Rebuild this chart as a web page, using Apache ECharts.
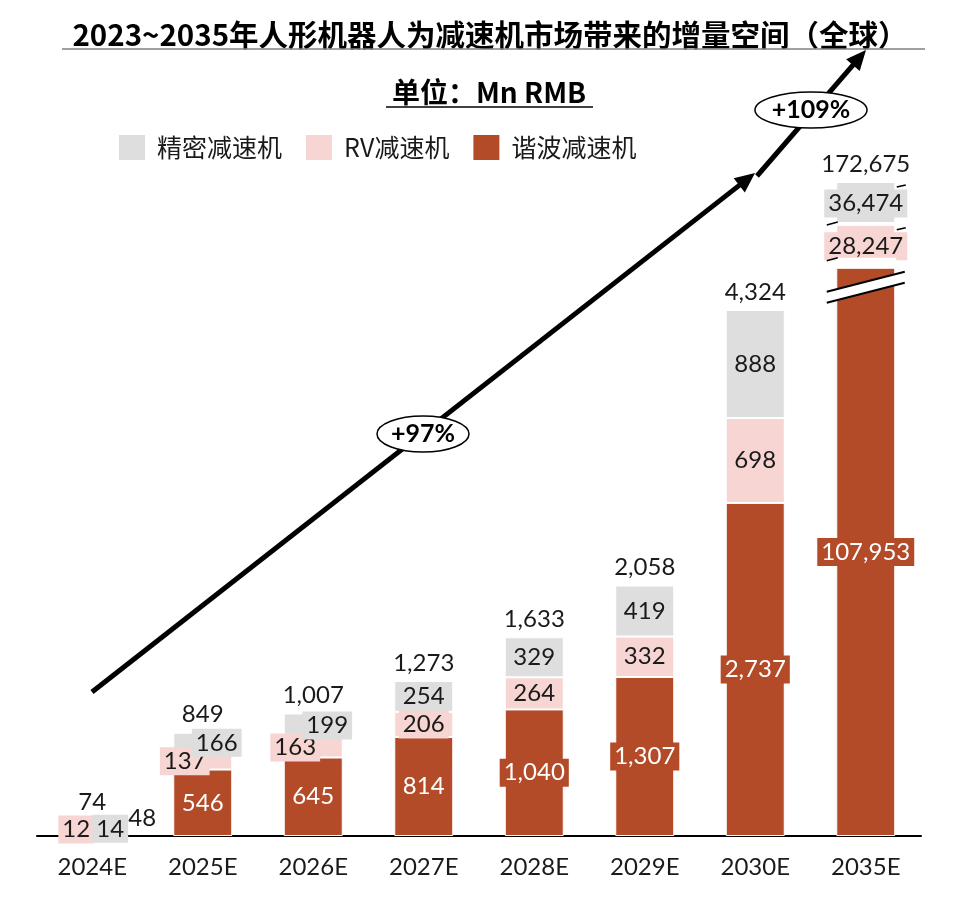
<!DOCTYPE html>
<html>
<head>
<meta charset="utf-8">
<script src="https://cdn.jsdelivr.net/npm/echarts@6.0.0/dist/echarts.min.js"></script>
<style>
html,body{margin:0;padding:0;background:#fff;}
#main{width:955px;height:898px;}
</style>
</head>
<body>
<div id="main"></div>
<script>
// ---------- data ----------
const categories = ['2024E', '2025E', '2026E', '2027E', '2028E', '2029E', '2030E', '2035E'];
const harmonic  = [48, 546, 645, 814, 1040, 1307, 2737, 107953];   // 谐波减速机
const rv        = [12, 137, 163, 206, 264, 332, 698, 28247];       // RV减速机
const precision = [14, 166, 199, 254, 329, 419, 888, 36474];       // 精密减速机
const totals    = [74, 849, 1007, 1273, 1633, 2058, 4324, 172675];
const growthLabels = ['+97%', '+109%'];

const NAMES = { precision: '精密减速机', rv: 'RV减速机', harmonic: '谐波减速机' };
const COLORS = { harmonic: '#B34A28', rv: '#F6D5D3', precision: '#DEDEDE' };
const NUM_FONT = 'Lato, "Noto Sans", sans-serif';
const CJK_FONT = '"Noto Sans CJK SC", sans-serif';

// axis breaks for the last (off-scale) bar
const last = categories.length - 1;
const hTop = harmonic[last];
const rTop = hTop + rv[last];
const pTop = rTop + precision[last];
const yBreaks = [
  { start: 4464, end: hTop - 115, gap: 90 },
  { start: hTop, end: rTop - 271, gap: 82 },
  { start: rTop, end: pTop - 329, gap: 23 }
];

// label tweaks (style only)
const tweaks = {
  harmonic: { 0: { offset: [50, -15], color: '#1a1a1a', backgroundColor: 'transparent' } },
  rv: { 0: { offset: [-16, 0] }, 1: { offset: [-18, 0] }, 2: { offset: [-18, 0] } },
  precision: { 0: { offset: [18, 1] }, 1: { offset: [14, 0] }, 2: { offset: [14, 0] } },
  total: { 0: { offset: [0, -7] } }
};

const fmt = v => v.toLocaleString('en-US');

function segSeries(key, values, textColor) {
  return {
    name: NAMES[key],
    type: 'bar',
    stack: 'all',
    barWidth: 59,
    itemStyle: { color: COLORS[key], borderColor: '#fff', borderWidth: 1 },
    label: {
      show: true,
      position: 'inside',
      formatter: p => fmt(values[p.dataIndex]),
      color: textColor,
      fontFamily: NUM_FONT,
      fontSize: 24,
      lineHeight: 24,
      backgroundColor: COLORS[key],
      padding: [2, 4]
    },
    data: values.map((v, i) => {
      const t = (tweaks[key] || {})[i];
      return t ? { value: v, label: t } : v;
    })
  };
}

const chart = echarts.init(document.getElementById('main'));

const option = {
  animation: false,
  backgroundColor: '#fff',
  legend: {
    data: [NAMES.precision, NAMES.rv, NAMES.harmonic],
    left: 112,
    top: 128,
    itemWidth: 28,
    itemHeight: 27,
    itemGap: 22,
    icon: 'rect',
    textStyle: { fontFamily: CJK_FONT, fontSize: 25, color: '#1a1a1a', padding: [0, 0, 0, 6] }
  },
  grid: { left: 37, right: 34, top: 182, bottom: 62, containLabel: false },
  xAxis: {
    type: 'category',
    data: categories,
    axisLine: { lineStyle: { color: '#000', width: 2 } },
    axisTick: { show: false },
    axisLabel: { fontFamily: NUM_FONT, fontSize: 24, color: '#1a1a1a', margin: 19 }
  },
  yAxis: {
    type: 'value',
    min: 0,
    max: pTop,
    show: false,
    splitLine: { show: false },
    breaks: yBreaks,
    breakArea: { show: false }
  },
  series: [
    segSeries('harmonic', harmonic, '#fff'),
    segSeries('rv', rv, '#1a1a1a'),
    segSeries('precision', precision, '#1a1a1a'),
    {
      name: 'total',
      type: 'bar',
      stack: 'all',
      barWidth: 59,
      itemStyle: { color: 'transparent' },
      label: {
        show: true,
        position: 'top',
        distance: 6,
        formatter: p => fmt(totals[p.dataIndex]),
        color: '#1a1a1a',
        fontFamily: NUM_FONT,
        fontSize: 24,
        lineHeight: 24
      },
      data: totals.map((v, i) => {
        const t = tweaks.total[i];
        return t ? { value: 0, label: t } : 0;
      })
    }
  ]
};
chart.setOption(option);

// ---------- annotations ----------
function arrow(x1, y1, x2, y2, headLen, headHalf, w) {
  const dx = x2 - x1, dy = y2 - y1, L = Math.hypot(dx, dy);
  const ux = dx / L, uy = dy / L;
  const bx = x2 - ux * headLen, by = y2 - uy * headLen;
  const nx = -uy, ny = ux;
  return [
    { type: 'line', z: 50, shape: { x1, y1, x2: bx + ux * 2, y2: by + uy * 2 }, style: { stroke: '#000', lineWidth: w } },
    { type: 'polygon', z: 50, shape: { points: [[x2, y2], [bx + nx * headHalf, by + ny * headHalf], [bx - nx * headHalf, by - ny * headHalf]] }, style: { fill: '#000' } }
  ];
}
function ellipseLabel(cx, cy, rx, ry, text) {
  return [
    { type: 'ellipse', z: 60, shape: { cx, cy, rx, ry }, style: { fill: '#fff', stroke: '#000', lineWidth: 1.5 } },
    { type: 'text', z: 61, x: cx, y: cy, style: { text, fill: '#000', font: 'bold 25px ' + NUM_FONT, align: 'center', verticalAlign: 'middle' } }
  ];
}

const g = [];
// title + unit
g.push({ type: 'text', x: 490, y: 35, z: 40, style: { text: '2023~2035年人形机器人为减速机市场带来的增量空间（全球）', font: 'bold 29.5px ' + CJK_FONT, fill: '#000', align: 'center', verticalAlign: 'middle' } });
g.push({ type: 'line', z: 40, shape: { x1: 62, y1: 49, x2: 925, y2: 49 }, style: { stroke: '#808080', lineWidth: 1.5 } });
g.push({ type: 'text', x: 489, y: 92, z: 40, style: { text: '单位：Mn RMB', font: 'bold 28px ' + CJK_FONT, fill: '#000', align: 'center', verticalAlign: 'middle' } });
g.push({ type: 'line', z: 40, shape: { x1: 386, y1: 107, x2: 593, y2: 107 }, style: { stroke: '#000', lineWidth: 1.5 } });

// growth arrows
g.push(...arrow(92, 692, 755, 173, 20, 9, 5));
g.push(...arrow(757, 176, 866, 50, 20, 9, 5));
g.push(...ellipseLabel(423, 434, 46, 18, growthLabels[0]));
g.push(...ellipseLabel(811, 110, 56, 18, growthLabels[1]));

// break marks on the off-scale bar
const xc = chart.convertToPixel({ xAxisIndex: 0 }, categories[last]);
const py = v => chart.convertToPixel({ yAxisIndex: 0 }, v);
const half = 29.5;
{
  const yLow = py(yBreaks[0].start), yHigh = py(yBreaks[0].end);
  const ext = 39, slant = 10;
  g.push({ type: 'polygon', z: 30, shape: { points: [[xc - ext, yHigh + slant], [xc + ext, yHigh - slant], [xc + ext, yLow - slant], [xc - ext, yLow + slant]] }, style: { fill: '#fff' } });
  g.push({ type: 'line', z: 31, shape: { x1: xc - ext, y1: yHigh + slant, x2: xc + ext, y2: yHigh - slant }, style: { stroke: '#000', lineWidth: 2 } });
  g.push({ type: 'line', z: 31, shape: { x1: xc - ext, y1: yLow + slant, x2: xc + ext, y2: yLow - slant }, style: { stroke: '#000', lineWidth: 2 } });
}
for (let k = 1; k < 3; k++) {
  const yLow = py(yBreaks[k].start), yHigh = py(yBreaks[k].end);
  g.push({ type: 'rect', z: 30, shape: { x: xc - half - 1, y: yHigh, width: 2 * half + 2, height: yLow - yHigh }, style: { fill: '#fff' } });
  const segTop = k === 1 ? py(rTop) : py(pTop);
  g.push({ type: 'line', z: 31, shape: { x1: xc - 39, y1: yHigh + 3, x2: xc - 28, y2: yHigh }, style: { stroke: '#000', lineWidth: 1.5 } });
  g.push({ type: 'line', z: 31, shape: { x1: xc + 31, y1: segTop + 5, x2: xc + 40, y2: segTop + 3 }, style: { stroke: '#000', lineWidth: 1.5 } });
}

chart.setOption({ graphic: g });
</script>
</body>
</html>
